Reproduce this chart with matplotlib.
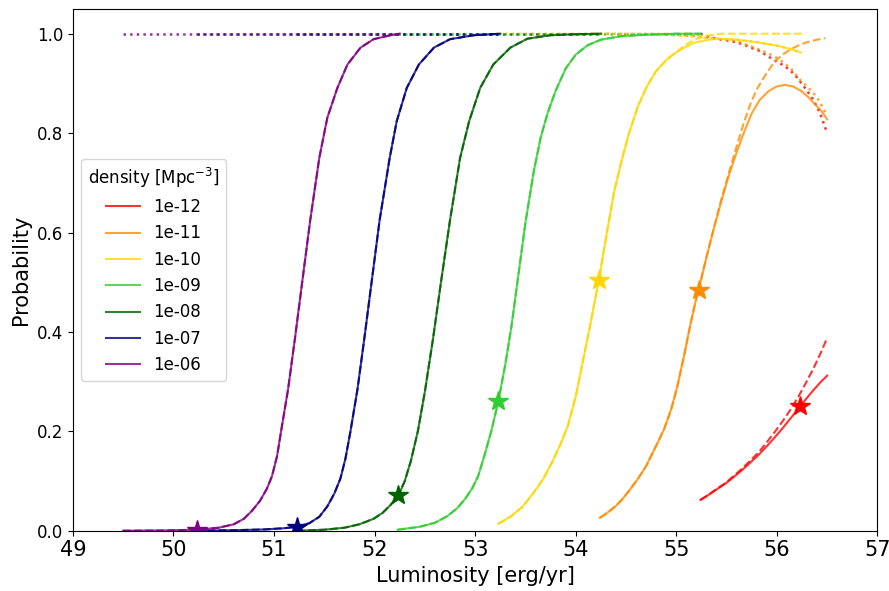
import matplotlib
matplotlib.use("Agg")
import matplotlib.pyplot as plt

# ---------------- data ----------------
densities = ["1e-12", "1e-11", "1e-10", "1e-09", "1e-08", "1e-07", "1e-06"]
colors = ["red", "darkorange", "gold", "limegreen", "darkgreen", "navy", "purple"]

# 1e-12
lum_1e12 = [55.24, 55.32, 55.40, 55.49, 55.57, 55.66, 55.74, 55.82, 55.90, 55.98,
            56.06, 56.14, 56.22, 56.29, 56.36, 56.43, 56.50]
prob_1e12 = [0.062, 0.072, 0.083, 0.095, 0.108, 0.123, 0.138, 0.153, 0.170, 0.188,
             0.207, 0.227, 0.247, 0.265, 0.282, 0.298, 0.312]
dash_lum_1e12 = [55.24, 55.32, 55.40, 55.49, 55.57, 55.66, 55.74, 55.82, 55.90, 55.98,
                 56.06, 56.14, 56.22, 56.29, 56.36, 56.43, 56.50]
dash_prob_1e12 = [0.062, 0.072, 0.084, 0.096, 0.110, 0.126, 0.142, 0.158, 0.178, 0.199,
                  0.221, 0.245, 0.272, 0.298, 0.325, 0.355, 0.388]
dot_lum_1e12 = [55.24, 55.32, 55.40, 55.49, 55.57, 55.66, 55.74, 55.82, 55.90, 55.98,
                56.07, 56.14, 56.20, 56.29, 56.36, 56.43, 56.50]
dot_prob_1e12 = [1.0, 0.994, 0.990, 0.987, 0.984, 0.979, 0.972, 0.966, 0.956, 0.946,
                 0.936, 0.925, 0.912, 0.888, 0.868, 0.840, 0.800]

# 1e-11
lum_1e11 = [54.24, 54.32, 54.40, 54.47, 54.54, 54.62, 54.70, 54.76, 54.81, 54.88,
            54.95, 55.01, 55.08, 55.14, 55.19, 55.24, 55.30, 55.37, 55.45, 55.53,
            55.61, 55.67, 55.75, 55.83, 55.92, 56.00, 56.08, 56.16, 56.24, 56.31,
            56.37, 56.44, 56.50]
prob_1e11 = [0.026, 0.037, 0.050, 0.065, 0.083, 0.105, 0.130, 0.155, 0.175, 0.205,
             0.245, 0.290, 0.355, 0.415, 0.460, 0.500, 0.550, 0.605, 0.665, 0.720,
             0.767, 0.800, 0.840, 0.867, 0.885, 0.894, 0.897, 0.894, 0.885, 0.873,
             0.860, 0.845, 0.828]
dash_lum_1e11 = [54.24, 54.32, 54.40, 54.47, 54.54, 54.62, 54.70, 54.76, 54.81, 54.88,
                 54.95, 55.01, 55.08, 55.14, 55.19, 55.24, 55.30, 55.37, 55.45, 55.53,
                 55.61, 55.67, 55.74, 55.80, 55.88, 55.97, 56.05, 56.14, 56.22, 56.30,
                 56.40, 56.48]
dash_prob_1e11 = [0.026, 0.037, 0.050, 0.065, 0.083, 0.105, 0.130, 0.155, 0.175, 0.205,
                  0.245, 0.290, 0.355, 0.415, 0.460, 0.500, 0.551, 0.607, 0.668, 0.725,
                  0.780, 0.820, 0.860, 0.888, 0.915, 0.942, 0.957, 0.969, 0.977, 0.983,
                  0.988, 0.991]
dot_lum_1e11 = [54.24, 54.80, 55.20, 55.40, 55.60, 55.80, 55.92, 56.03, 56.14, 56.24,
                56.32, 56.40, 56.50]
dot_prob_1e11 = [1.0, 0.999, 0.995, 0.990, 0.985, 0.970, 0.960, 0.948, 0.930, 0.905,
                 0.890, 0.872, 0.835]

# 1e-10
lum_1e10 = [53.23, 53.35, 53.47, 53.58, 53.68, 53.77, 53.85, 53.92, 54.00, 54.08,
            54.15, 54.23, 54.31, 54.38, 54.45, 54.53, 54.62, 54.71, 54.80, 54.90,
            54.98, 55.08, 55.18, 55.30, 55.41, 55.60, 55.80, 56.00, 56.14, 56.24]
prob_1e10 = [0.014, 0.028, 0.048, 0.076, 0.105, 0.140, 0.175, 0.210, 0.270, 0.350,
             0.420, 0.505, 0.600, 0.680, 0.740, 0.800, 0.855, 0.895, 0.925, 0.947,
             0.960, 0.972, 0.982, 0.987, 0.990, 0.988, 0.983, 0.976, 0.969, 0.962]
dash_lum_1e10 = [53.23, 53.35, 53.47, 53.58, 53.68, 53.77, 53.85, 53.92, 54.00, 54.08,
                 54.15, 54.23, 54.31, 54.38, 54.45, 54.53, 54.62, 54.71, 54.80, 54.90,
                 54.98, 55.08, 55.18, 55.30, 55.45, 56.25]
dash_prob_1e10 = [0.014, 0.028, 0.048, 0.076, 0.105, 0.140, 0.175, 0.210, 0.270, 0.350,
                  0.420, 0.505, 0.600, 0.680, 0.740, 0.800, 0.855, 0.895, 0.925, 0.947,
                  0.960, 0.976, 0.988, 0.996, 1.0, 1.0]
dot_lum_1e10 = [53.23, 54.90, 55.08, 55.18, 55.30, 55.41, 55.60, 55.80, 56.00, 56.14, 56.24]
dot_prob_1e10 = [1.0, 1.0, 0.996, 0.994, 0.991, 0.990, 0.988, 0.983, 0.976, 0.969, 0.962]

# 1e-09
lum_1e09 = [52.23, 52.45, 52.60, 52.72, 52.82, 52.90, 52.97, 53.03, 53.09, 53.16,
            53.23, 53.30, 53.36, 53.42, 53.50, 53.58, 53.65, 53.72, 53.80, 53.90,
            54.00, 54.12, 54.25, 54.45, 54.70, 55.00, 55.25]
prob_1e09 = [0.002, 0.008, 0.016, 0.029, 0.045, 0.064, 0.085, 0.110, 0.150, 0.200,
             0.260, 0.335, 0.410, 0.500, 0.620, 0.720, 0.790, 0.840, 0.885, 0.930,
             0.958, 0.977, 0.988, 0.995, 0.998, 1.0, 1.0]
dot_lum_1e09 = [52.23, 55.25]
dot_prob_1e09 = [1.0, 1.0]

# 1e-08
lum_1e08 = [51.23, 51.50, 51.70, 51.85, 51.99, 52.08, 52.16, 52.24, 52.30, 52.36,
            52.43, 52.50, 52.58, 52.66, 52.75, 52.85, 52.94, 53.05, 53.18, 53.35,
            53.52, 53.75, 54.00, 54.25]
prob_1e08 = [0.0, 0.002, 0.006, 0.013, 0.024, 0.036, 0.052, 0.072, 0.100, 0.140,
             0.200, 0.280, 0.385, 0.500, 0.625, 0.750, 0.824, 0.891, 0.938, 0.972,
             0.990, 0.997, 0.999, 1.0]
dot_lum_1e08 = [51.23, 54.25]
dot_prob_1e08 = [1.0, 1.0]

# 1e-07
lum_1e07 = [50.23, 50.60, 50.90, 51.10, 51.23, 51.35, 51.45, 51.53, 51.60, 51.66,
            51.71, 51.76, 51.83, 51.90, 51.97, 52.05, 52.15, 52.22, 52.32, 52.44,
            52.59, 52.75, 52.99, 53.25]
prob_1e07 = [0.0002, 0.001, 0.0025, 0.005, 0.008, 0.015, 0.028, 0.049, 0.075, 0.105,
             0.145, 0.200, 0.285, 0.390, 0.500, 0.625, 0.750, 0.824, 0.891, 0.938,
             0.972, 0.989, 0.997, 1.0]
dot_lum_1e07 = [50.23, 53.25]
dot_prob_1e07 = [1.0, 1.0]

# 1e-06
lum_1e06 = [49.50, 49.90, 50.23, 50.45, 50.60, 50.70, 50.78, 50.86, 50.93, 50.98,
            51.03, 51.07, 51.14, 51.21, 51.28, 51.36, 51.45, 51.53, 51.63, 51.73,
            51.86, 51.99, 52.16, 52.25]
prob_1e06 = [0.0, 0.0005, 0.002, 0.006, 0.013, 0.024, 0.040, 0.060, 0.085, 0.110,
             0.150, 0.200, 0.285, 0.390, 0.500, 0.625, 0.750, 0.831, 0.891, 0.938,
             0.972, 0.989, 0.997, 1.0]
dot_lum_1e06 = [49.50, 52.25]
dot_prob_1e06 = [1.0, 1.0]

star_lum = [56.23, 55.23, 54.23, 53.23, 52.23, 51.23, 50.23]
star_prob = [0.250, 0.485, 0.505, 0.260, 0.072, 0.008, 0.002]

xticks = [49, 50, 51, 52, 53, 54, 55, 56, 57]

solid = [(lum_1e12, prob_1e12), (lum_1e11, prob_1e11), (lum_1e10, prob_1e10),
         (lum_1e09, prob_1e09), (lum_1e08, prob_1e08), (lum_1e07, prob_1e07),
         (lum_1e06, prob_1e06)]
dashed = [(dash_lum_1e12, dash_prob_1e12), (dash_lum_1e11, dash_prob_1e11),
          (dash_lum_1e10, dash_prob_1e10), (lum_1e09, prob_1e09),
          (lum_1e08, prob_1e08), (lum_1e07, prob_1e07), (lum_1e06, prob_1e06)]
dotted = [(dot_lum_1e12, dot_prob_1e12), (dot_lum_1e11, dot_prob_1e11),
          (dot_lum_1e10, dot_prob_1e10), (dot_lum_1e09, dot_prob_1e09),
          (dot_lum_1e08, dot_prob_1e08), (dot_lum_1e07, dot_prob_1e07),
          (dot_lum_1e06, dot_prob_1e06)]

# ---------------- plot ----------------
fig = plt.figure(figsize=(8.89, 5.91), dpi=100)
ax = fig.add_axes([0.082, 0.102, 0.905, 0.883])

for i, lab in enumerate(densities):
    c = colors[i]
    sx, sy = solid[i]
    ax.plot(sx, sy, color=c, lw=1.5, alpha=0.8, label=lab)
    dx, dy = dashed[i]
    ax.plot(dx, dy, color=c, lw=1.5, ls="--", alpha=0.8)
    ox, oy = dotted[i]
    ax.plot(ox, oy, color=c, lw=1.8, ls=":", alpha=0.8)
    ax.plot([star_lum[i]], [star_prob[i]], marker="*", ms=15, color=c, ls="none")

ax.set_xlim(49, 57)
ax.set_ylim(0, 1.05)
ax.set_xticks(xticks)
ax.tick_params(axis="x", labelsize=15)
ax.tick_params(axis="y", labelsize=12)
ax.set_xlabel("Luminosity [erg/yr]", fontsize=15)
ax.set_ylabel("Probability", fontsize=15)
ax.legend(loc="center left", title="density [Mpc$^{-3}$]", fontsize=12,
          title_fontsize=12)

fig.savefig("out.png", dpi=100)
